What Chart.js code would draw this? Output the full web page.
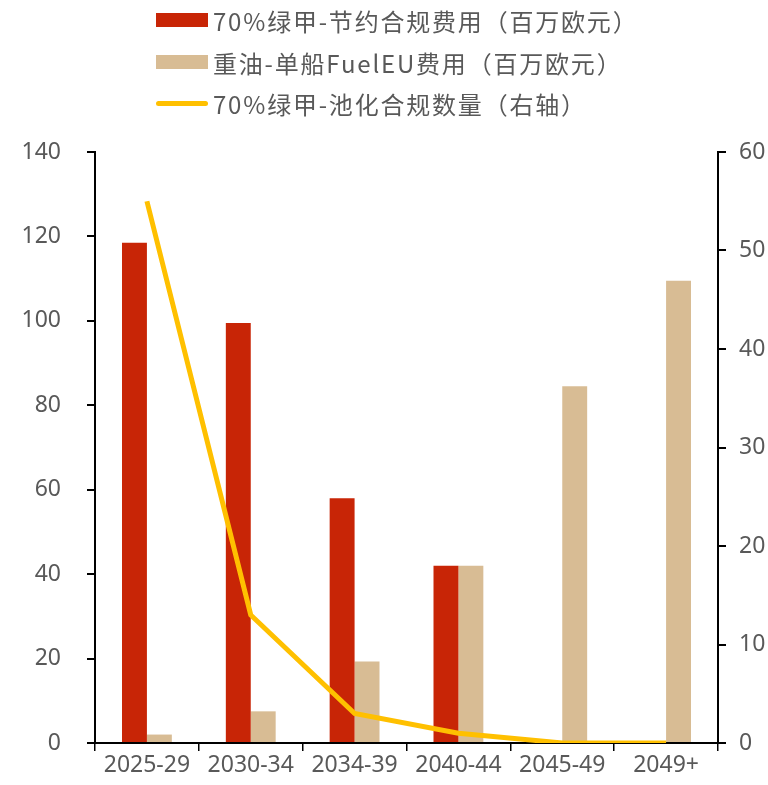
<!DOCTYPE html>
<html>
<head>
<meta charset="utf-8">
<script src="https://cdn.jsdelivr.net/npm/chart.js@4.4.0/dist/chart.umd.min.js"></script>
<style>
    html, body { margin: 0; padding: 0; background: #fff; }
    #wrap { position: relative; width: 768px; height: 785px; }
    #legend { position: absolute; left: 156px; top: 0; font-family: "Noto Sans CJK SC", "Noto Sans", sans-serif;
        font-size: 24px; color: #595959; letter-spacing: 1.8px; }
    .row { position: absolute; left: 0; height: 30px; white-space: nowrap; display: flex; align-items: center; }
    .box { width: 52px; height: 14px; margin-right: 5px; }
    .ln { width: 52px; height: 5px; border-radius: 3px; margin-right: 5px; }
</style>
</head>
<body>
<div id="wrap">
    <canvas id="chart" width="768" height="785"></canvas>
    <div id="legend"></div>
</div>
<script>
const categories = ["2025-29", "2030-34", "2034-39", "2040-44", "2045-49", "2049+"];
const savedCost = [118.5, 99.5, 58, 42, 0, 0];          // 70%绿甲-节约合规费用（百万欧元）
const fuelEUCost = [2, 7.5, 19.3, 42, 84.5, 109.5];     // 重油-单船FuelEU费用（百万欧元）
const poolCount = [55, 13, 3, 1, 0, 0];                  // 70%绿甲-池化合规数量（右轴）

const seriesNames = [
    "70%绿甲-节约合规费用（百万欧元）",
    "重油-单船FuelEU费用（百万欧元）",
    "70%绿甲-池化合规数量（右轴）"
];
const colors = ["#C82506", "#D8BC94", "#FFC000"];

// html legend, stacked rows like the original
const legend = document.getElementById("legend");
const rowTops = [5, 47, 88];
seriesNames.forEach((name, i) => {
    const row = document.createElement("div");
    row.className = "row";
    row.style.top = rowTops[i] + "px";
    const sw = document.createElement("span");
    sw.className = i === 2 ? "ln" : "box";
    sw.style.background = colors[i];
    row.appendChild(sw);
    row.appendChild(document.createTextNode(name));
    legend.appendChild(row);
});

const tickFont = { family: "'Noto Sans', 'Noto Sans CJK SC', sans-serif", size: 23 };
const gray = "#595959";

new Chart(document.getElementById("chart").getContext("2d"), {
    data: {
        labels: categories,
        datasets: [
            {
                type: "line",
                label: seriesNames[2],
                data: poolCount,
                yAxisID: "y1",
                borderColor: colors[2],
                borderWidth: 5,
                pointRadius: 0,
                tension: 0,
                order: 0
            },
            {
                type: "bar",
                label: seriesNames[0],
                data: savedCost,
                yAxisID: "y",
                backgroundColor: colors[0],
                categoryPercentage: 0.48,
                barPercentage: 1,
                order: 1
            },
            {
                type: "bar",
                label: seriesNames[1],
                data: fuelEUCost,
                yAxisID: "y",
                backgroundColor: colors[1],
                categoryPercentage: 0.48,
                barPercentage: 1,
                order: 1
            }
        ]
    },
    options: {
        responsive: false,
        animation: false,
        layout: { padding: { top: 152, bottom: 0, left: 0, right: 0 } },
        plugins: { legend: { display: false }, tooltip: { enabled: false } },
        scales: {
            x: {
                grid: { display: true, drawOnChartArea: false, offset: true, tickLength: 8, color: "#000", lineWidth: 1.5 },
                border: { color: "#000", width: 2 },
                ticks: { font: tickFont, color: gray, padding: 1, maxRotation: 0 },
                afterFit: (s) => { s.height = 42; }
            },
            y: {
                position: "left",
                min: 0,
                max: 140,
                ticks: { stepSize: 20, font: tickFont, color: gray, padding: 26 },
                grid: { display: true, drawOnChartArea: false, tickLength: 8, color: "#000", lineWidth: 2 },
                border: { color: "#000", width: 2 },
                afterFit: (s) => { s.width = 95; }
            },
            y1: {
                position: "right",
                min: 0,
                max: 60,
                ticks: { stepSize: 10, font: tickFont, color: gray, padding: 13 },
                grid: { display: true, drawOnChartArea: false, tickLength: 8, color: "#000", lineWidth: 2 },
                border: { color: "#000", width: 2 },
                afterFit: (s) => { s.width = 50; }
            }
        }
    }
});
</script>
</body>
</html>
